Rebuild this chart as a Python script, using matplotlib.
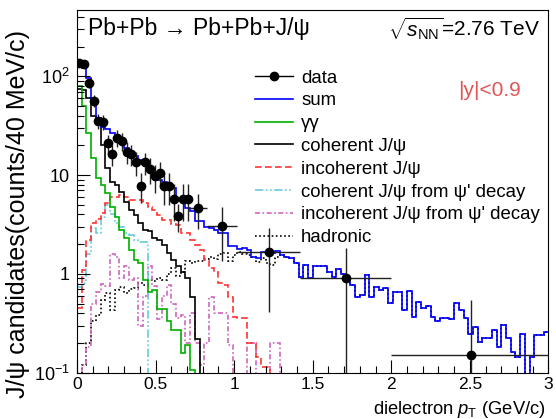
import numpy as np
import matplotlib
matplotlib.use("Agg")
import matplotlib.pyplot as plt
from matplotlib.lines import Line2D
from matplotlib.ticker import FixedLocator, FixedFormatter, NullFormatter

plt.rcParams['font.family'] = ['Liberation Sans', 'DejaVu Sans']
plt.rcParams['mathtext.fontset'] = 'custom'
plt.rcParams['mathtext.rm'] = 'Liberation Sans'
plt.rcParams['mathtext.it'] = 'Liberation Sans:italic'

# ---- data points ----
data_x = [0.015, 0.045, 0.075, 0.105, 0.135, 0.165, 0.195, 0.225, 0.255, 0.285,
          0.315, 0.345, 0.375, 0.405, 0.435, 0.465, 0.495, 0.525, 0.555, 0.585,
          0.615, 0.645, 0.675, 0.705, 0.771, 0.924, 1.223, 1.713, 2.51]
data_y = [138, 132, 85.5, 56.6, 35.5, 34.7, 21.1, 16.4, 24.0, 22.3,
          17.3, 16.4, 13.5, 7.8, 13.5, 11.5, 9.7, 10.6, 7.8, 7.8,
          5.8, 3.87, 5.8, 5.8, 4.67, 3.06, 1.68, 0.92, 0.15]
data_err = [12, 11.5, 9.2, 7.5, 6, 6, 4.6, 4, 4.9, 4.7,
            4.2, 4, 3.7, 2.6, 3.4, 3.4, 3.1, 3.0, 2.8, 2.8,
            2.4, 1.2, 2.4, 2.4, 1.8, 1.7, 1.27, 0.93, 0.4]
data_xlo = [0.015] * 24 + [0.051, 0.099, 0.203, 0.293, 0.51]
data_xhi = [0.015] * 24 + [0.054, 0.096, 0.197, 0.287, 0.49]

# ---- model histograms, 30 MeV bins from 0 to 3 GeV ----
sum_vals = [126, 121, 96, 58, 38, 31, 29, 26.5, 25, 22,
            19, 17.3, 15.8, 14.3, 14.3, 12.2, 10.1, 8.95, 8.6, 8.3,
            7.4, 5.6, 5.3, 4.7, 4.3, 3.4, 3.4, 3.0, 2.9, 2.8,
            2.6, 2.6, 1.9, 1.9, 1.8, 1.85, 1.75, 1.5, 1.44, 1.68,
            1.62, 1.62, 1.7, 1.55, 1.5, 1.44, 1.28, 0.93, 1.23, 0.90,
            1.19, 1.19, 1.19, 1.05, 0.93, 1.11, 1.0, 0.90, 0.77, 0.58,
            0.61, 0.98, 0.59, 0.74, 0.69, 0.72, 0.51, 0.66, 0.66, 0.43,
            0.67, 0.364, 0.52, 0.45, 0.47, 0.37, 0.33, 0.356, 0.356, 0.348,
            0.51, 0.43, 0.356, 0.247, 0.29, 0.206, 0.223, 0.223, 0.27, 0.183,
            0.304, 0.223, 0.163, 0.145, 0.245, 0.09, 0.145, 0.241, 0.241, 0.26]
gg_vals = [80, 50, 27, 15, 9.3, 8.0, 6.6, 4.8, 3.81, 2.79,
           2.30, 1.75, 1.39, 1.3, 0.87, 0.66, 0.69, 0.44, 0.44, 0.33,
           0.27, 0.27, 0.16, 0.19, 0.107]
coh_vals = [75, 72, 60, 40, 37.9, 20.3, 11.8, 8.6, 8.0, 6.8,
            5.4, 4.45, 3.96, 3.26, 2.79, 2.69, 2.30, 2.2, 1.97, 1.62,
            1.39, 1.2, 1.05, 0.90, 0.59, 0.22]
incoh_vals = [0.45, 1.1, 2.2, 3.26, 3.6, 4.12, 5.2, 6.07, 6.07, 6.3,
              6.07, 5.6, 5.6, 5.6, 5.2, 4.8, 4.45, 3.96, 3.52, 3.52,
              3.2, 3.1, 2.58, 2.58, 2.2, 1.97, 1.75, 1.39, 1.14, 1.05,
              0.81, 0.77, 0.59, 0.37, 0.36, 0.36, 0.2, 0.2, 0.145, 0.115,
              0.115]
coh_psi2s_vals = [0.73, 0.81, 1.6, 2.9, 2.6, 3.8, 5.0, 4.0, 3.3, 3.0,
                  2.6, 2.5, 2.2, 2.1, 2.1]
incoh_psi2s_vals = [0.05, 0.12, 0.18, 0.5, 0.65, 0.8, 0.75, 1.6, 1.5, 0.9,
                    1.19, 0.87, 0.9, 0.3, 0.6, 1.2, 0.75, 0.35, 0.6, 0.77,
                    0.5, 0.36, 0.38, 0.2, 0.4, 0.2, 0.12, 0.2, 0.59, 0.4,
                    0.4, 0.4, 0.19, 0.08, 0.08, 0.08, 0.2, 0.2, 0.08, 0.08,
                    0.08, 0.2, 0.2]
had_low = [0.05, 0.12, 0.2, 0.33, 0.38, 0.55, 0.64, 0.43, 0.68, 0.74,
           0.64, 0.7, 0.72, 0.81, 0.78, 0.87, 0.85, 0.9, 0.87, 1.0,
           1.14, 0.95, 1.05, 1.36, 1.28, 1.36, 1.35, 1.4, 1.5, 1.4,
           1.6, 1.62, 1.35, 1.55, 1.68, 1.6, 1.55, 1.5, 1.33, 1.45,
           1.3, 1.23, 1.5]
# above ~1.3 GeV the hadronic curve sits under the sum
had_vals = had_low + sum_vals[len(had_low):]

edges = np.linspace(0, 3, 101)
EMPTY = 1e-3


def pad(vals):
    return np.array(list(vals) + [EMPTY] * (100 - len(vals)))


fig = plt.figure(figsize=(5.56, 4.19), dpi=100)
ax = fig.add_axes([0.1385, 0.1105, 0.848, 0.8656])
ax.set_yscale('log')

lw = 1.2
styles = [
    (had_vals, 'black', (0, (1, 1.5)), 'hadronic'),
    (incoh_psi2s_vals, '#cc66bb', (0, (3, 1.5, 1, 1.5)), "incoherent J/\u03c8 from \u03c8' decay"),
    (coh_psi2s_vals, '#66ccdd', (0, (5, 1.5, 1, 1.5, 1, 1.5)), "coherent J/\u03c8 from \u03c8' decay"),
    (incoh_vals, '#ff3333', (0, (4, 2)), 'incoherent J/\u03c8'),
    (coh_vals, 'black', '-', 'coherent J/\u03c8'),
    (gg_vals, '#00b000', '-', '\u03b3\u03b3'),
    (sum_vals, '#0000ff', '-', 'sum'),
]
for vals, col, ls, lab in styles:
    ax.stairs(pad(vals), edges, baseline=None, color=col, linestyle=ls, lw=lw)

ax.errorbar(data_x, data_y, yerr=data_err, xerr=[data_xlo, data_xhi],
            fmt='o', color='black', ecolor='#222222', ms=6, elinewidth=1,
            capsize=0, zorder=10)

ax.set_xlim(0, 3)
ax.set_ylim(0.1, 470)

ax.set_xticks([0, 0.5, 1, 1.5, 2, 2.5, 3])
ax.set_xticklabels(['0', '0.5', '1', '1.5', '2', '2.5', '3'])
ax.xaxis.set_minor_locator(FixedLocator(np.arange(0, 3.01, 0.1)))
ax.yaxis.set_major_locator(FixedLocator([0.1, 1, 10, 100]))
ax.yaxis.set_major_formatter(FixedFormatter(['10$^{-1}$', '1', '10', '10$^{2}$']))
ax.yaxis.set_minor_formatter(NullFormatter())
ax.tick_params(which='both', direction='in', top=False, right=False, labelsize=13)
ax.tick_params(axis='x', labelsize=12.5, pad=3)
ax.tick_params(which='major', length=9.5, width=0.8)
ax.tick_params(which='minor', length=5, width=0.8)
ax.tick_params(axis='y', pad=5)
for sp in ax.spines.values():
    sp.set_linewidth(0.8)

ax.set_ylabel('J/\u03c8 candidates(counts/40 MeV/c)', fontsize=18, loc='top')
ax.yaxis.set_label_coords(-0.10, 0.945)
ax.set_xlabel('dielectron $p_{\\rm T}$ (GeV/c)', fontsize=13.2, loc='right')
ax.xaxis.set_label_coords(0.995, -0.072)

handles = [Line2D([], [], color='black', marker='o', ms=6, lw=1)]
labels = ['data']
for vals, col, ls, lab in styles[::-1]:
    handles.append(Line2D([], [], color=col, linestyle=ls, lw=lw))
    labels.append(lab)
ax.legend(handles, labels, loc='upper left', bbox_to_anchor=(0.3775, 0.836),
          frameon=False, fontsize=13.4, handlelength=2.05, handletextpad=0.43,
          labelspacing=0.31, borderaxespad=0, borderpad=0)

fig.text(0.158, 0.933, 'Pb+Pb \u2192 Pb+Pb+J/\u03c8', fontsize=16.5, va='center')
fig.text(0.971, 0.933, '$\\sqrt{s_{\\rm NN}}$=2.76 TeV', fontsize=15,
         va='center', ha='right')
fig.text(0.824, 0.785, '|y|<0.9', fontsize=15, va='center', color='#e05555')

fig.savefig('out.png', dpi=100)
